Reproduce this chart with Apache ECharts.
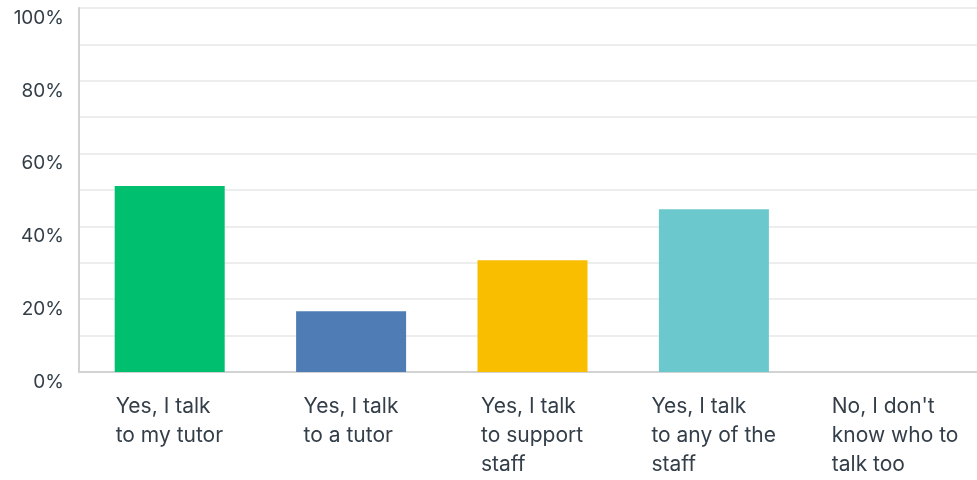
<!DOCTYPE html>
<html>
<head>
<meta charset="utf-8">
<script src="https://cdn.jsdelivr.net/npm/echarts@6/dist/echarts.min.js"></script>
<style>
  html, body { margin: 0; padding: 0; background: #fff; }
  #chart { width: 977px; height: 480px; }
</style>
</head>
<body>
<div id="chart"></div>
<script>
// categories (line breaks as in the picture)
var categories = [
    'Yes, I talk\nto my tutor',
    'Yes, I talk\nto a tutor',
    'Yes, I talk\nto support\nstaff',
    'Yes, I talk\nto any of the\nstaff',
    "No, I don't\nknow who to\ntalk too"
];
var values = [51.1, 16.7, 30.7, 44.7, 0];
var barColors = ['#00bf6f', '#507cb6', '#f9be00', '#6bc8cd', '#d25f90'];
var yTicks = [0, 20, 40, 60, 80, 100];

var FONT = 'Inter';
var LABEL_SIZE = 21;

// width of each label block so that lines are left aligned inside a centred block
var ctx = document.createElement('canvas').getContext('2d');
ctx.font = LABEL_SIZE + 'px ' + FONT;
var rich = {};
categories.forEach(function (c, i) {
    var w = 0;
    c.split('\n').forEach(function (l) {
        w = Math.max(w, ctx.measureText(l).width);
    });
    rich['c' + i] = {
        width: Math.ceil(w),
        align: 'left',
        fontFamily: FONT,
        fontSize: LABEL_SIZE,
        lineHeight: 29,
        color: '#333e48'
    };
});

var myChart = echarts.init(document.getElementById('chart'));

var option = {
    animation: false,
    grid: {
        left: 79,
        width: 907,
        top: 8,
        height: 364,
        containLabel: false,
        outerBoundsMode: 'none'
    },
    xAxis: {
        type: 'category',
        data: categories,
        axisLine: { show: true, lineStyle: { color: '#d0d2d3', width: 2 } },
        axisTick: { show: false },
        axisLabel: {
            interval: 0,
            margin: 20,
            verticalAlign: 'top',
            formatter: function (value, index) {
                return value.split('\n').map(function (l) {
                    return '{c' + index + '|' + l + '}';
                }).join('\n');
            },
            rich: rich
        }
    },
    yAxis: {
        type: 'value',
        min: 0,
        max: 100,
        interval: 10,
        axisLine: { show: true, lineStyle: { color: '#d0d2d3', width: 2 } },
        axisTick: { show: false },
        splitLine: { show: true, lineStyle: { color: '#ededed', width: 2 } },
        axisLabel: {
            margin: 15,
            fontFamily: FONT,
            fontSize: 19,
            lineHeight: 20,
            verticalAlign: 'top',
            color: '#333e48',
            formatter: function (v) {
                return yTicks.indexOf(v) >= 0 ? v + '%' : '';
            }
        }
    },
    series: [{
        type: 'bar',
        barWidth: 110,
        data: values.map(function (v, i) {
            return { value: v, itemStyle: { color: barColors[i] } };
        })
    }]
};

myChart.setOption(option);
</script>
</body>
</html>
